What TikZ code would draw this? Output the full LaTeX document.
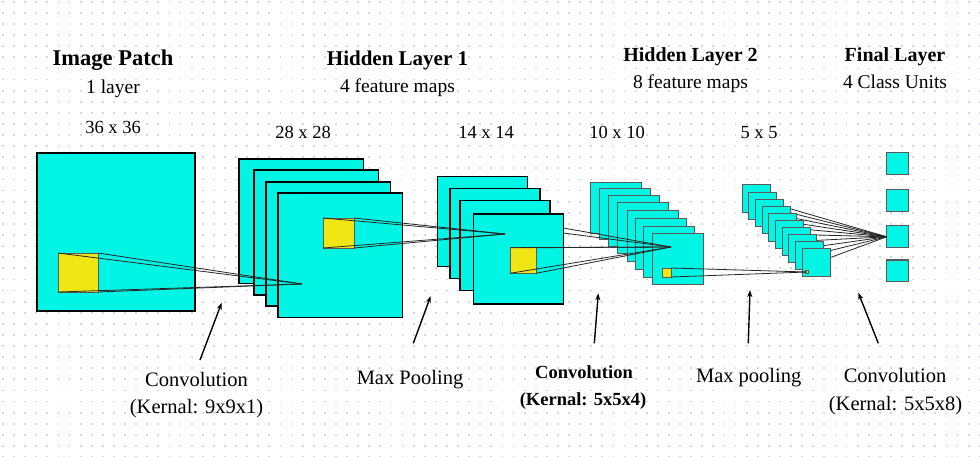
\documentclass[tikz,border=0pt]{standalone}
\usepackage{fontspec}
\setmainfont{Liberation Serif}
\usetikzlibrary{arrows.meta}
\definecolor{fcyan}{RGB}{0,245,228}
\definecolor{fyellow}{RGB}{240,230,20}
\definecolor{gdot}{RGB}{214,214,222}
\definecolor{fgray}{RGB}{90,90,90}
\tikzset{
  sq/.style={anchor=north west, inner sep=0pt, outer sep=0pt, fill=fcyan},
  sqA/.style={sq, draw=black, line width=1.8pt},
  sqB/.style={sq, draw=black, line width=1.2pt},
  sqC/.style={sq, draw=fgray, line width=1pt},
  patch/.style={anchor=north west, inner sep=0pt, outer sep=0pt, fill=fyellow, draw=fgray, line width=0.8pt},
  conn/.style={draw=black!85, line width=0.8pt},
  ptr/.style={draw=black, line width=1.4pt, -{Stealth[length=7pt,width=5pt]}},
  hd/.style={anchor=base, inner sep=0pt, font=\fontsize{21}{24}\selectfont\bfseries},
  hdb/.style={anchor=base, inner sep=0pt, font=\fontsize{20}{24}\selectfont\bfseries},
  sub/.style={anchor=base, inner sep=0pt, font=\fontsize{19.5}{23}\selectfont},
  dim/.style={anchor=base, inner sep=0pt, font=\fontsize{18.5}{22}\selectfont},
  lab/.style={anchor=base, inner sep=0pt, font=\fontsize{20.5}{24}\selectfont},
  labb/.style={anchor=base, inner sep=0pt, font=\fontsize{18.5}{22}\selectfont\bfseries},
}
\begin{document}
\begin{tikzpicture}[x=1pt,y=-1pt]
\useasboundingbox (0,0) rectangle (980,457);
\fill[white] (0,0) rectangle (980,457);
% dotted grid
\foreach \x in {2,13.1,...,980} {
  \foreach \y in {1,12.1,...,457} {
    \fill[gdot] (\x,\y) rectangle ++(1.8,1.8);
  }
}
% ---- Image patch ----
\node[sqA, minimum width=158pt, minimum height=158pt] (ip) at (37,153) {};
\node[patch, minimum width=40pt, minimum height=39pt] (ipk) at (58,253) {};
% ---- Hidden layer 1, 28x28 ----
\node[sqA, minimum width=124.5pt, minimum height=124.5pt] (h1a) at (239,159) {};
\node[sqA, minimum width=124.5pt, minimum height=124.5pt] (h1b) at (254,170.3) {};
\node[sqA, minimum width=124.5pt, minimum height=124.5pt] (h1c) at (266,181.7) {};
\node[sqA, minimum width=124.5pt, minimum height=124.5pt] (h1d) at (278,193) {};
\node[patch, minimum width=31pt, minimum height=30pt] (h1k) at (323,218) {};
\coordinate (ap1) at (302,284);
\foreach \c in {north west,north east,south east,south west} \draw[conn] (ipk.\c) -- (ap1);
% ---- Hidden layer 1, 14x14 ----
\node[sqB, minimum width=90pt, minimum height=90pt] (p1a) at (437.7,176.7) {};
\node[sqB, minimum width=90pt, minimum height=90pt] (p1b) at (450,188.3) {};
\node[sqB, minimum width=90pt, minimum height=90pt] (p1c) at (460,200.7) {};
\node[sqB, minimum width=90pt, minimum height=90pt] (p1d) at (473.3,214) {};
\node[patch, minimum width=26pt, minimum height=25.6pt] (p1k) at (510,247.7) {};
\coordinate (ap2) at (505,234);
\foreach \c in {north west,north east,south east,south west} \draw[conn] (h1k.\c) -- (ap2);
% ---- Hidden layer 2, 10x10 ----
\foreach \n/\x/\y in {1/590.7/182.7,2/599/189,3/608.7/195.7,4/617.7/203,5/627.3/210.3,6/635.7/218.3,7/643.3/226.3,8/652.7/233.7}
  \node[sqC, minimum width=51pt, minimum height=51pt] (c2\n) at (\x,\y) {};
\node[patch, minimum width=9pt, minimum height=9pt] (c2k) at (662,268) {};
\coordinate (ap3) at (671,247);
\coordinate (e1) at (p1d.east |- 0,228);
\coordinate (e2) at (p1d.east |- 0,233);
\foreach \c in {north west,north east,south east,south west} \draw[conn] (p1k.\c) -- (ap3);
\draw[conn] (e1) -- (ap3);
\draw[conn] (e2) -- (ap3);
% ---- Final layer ----
\foreach \n/\y in {1/152.7,2/190,3/226,4/260}
  \node[sqC, minimum width=21.6pt, minimum height=21.6pt] (f\n) at (886.7,\y) {};
\coordinate (ap5) at (f3.west);
% ---- Hidden layer 2, 5x5 (lines behind) ----
\foreach \n in {0,...,9} {
  \coordinate (s\n c) at ({742.3+6.67*\n+13.85},{185+7.1*\n+13.85});
  \draw[conn] (s\n c) -- (ap5);
}
\foreach \n in {0,...,9}
  \node[sqC, minimum width=27.7pt, minimum height=27.7pt] (s\n) at ({742.3+6.67*\n},{185+7.1*\n}) {};
\node[patch, minimum width=3pt, minimum height=3pt, line width=0.6pt] (ap4) at (805.5,270.5) {};
\draw[conn] (c2k.north east) -- (ap4.center);
\draw[conn] (c2k.south east) -- (ap4.center);
% ---- headings ----
\node[hd, font=\fontsize{22.5}{26}\selectfont\bfseries] (t1) at (113,66) {Image Patch};
\node[sub] (t1s) at (113,94) {1 layer};
\node[dim] (d1) at (113,134) {36 x 36};
\node[hd] (t2) at (397.5,66) {Hidden Layer 1};
\node[sub] (t2s) at (397.5,93) {4 feature maps};
\node[hdb] (t3) at (690.5,62) {Hidden Layer 2};
\node[sub] (t3s) at (690.5,88.5) {8 feature maps};
\node[hdb] (t4) at (895,62) {Final Layer};
\node[sub] (t4s) at (895,88.5) {4 Class Units};
\node[dim] (d2) at (303,138.5) {28 x 28};
\node[dim] (d3) at (486,138.5) {14 x 14};
\node[dim] (d4) at (617,138.5) {10 x 10};
\node[dim] (d5) at (759,138.5) {5 x 5};
% ---- bottom labels ----
\node[lab] (l1) at (196.5,386.5) {Convolution};
\node[lab] (l1b) at (196.5,413) {(Kernal: 9x9x1)};
\node[lab] (l2) at (410,384) {Max Pooling};
\node[labb] (l3) at (584,378.5) {Convolution};
\node[labb] (l3b) at (583,405.5) {(Kernal: 5x5x4)};
\node[lab] (l4) at (748.7,382) {Max pooling};
\node[lab] (l5) at (895,382.5) {Convolution};
\node[lab] (l5b) at (895.5,410) {(Kernal: 5x5x8)};
% ---- pointer arrows ----
\coordinate (a1s) at (200,360); \coordinate (a1e) at (221.7,302.7);
\coordinate (a2s) at (413.3,343.3); \coordinate (a2e) at (430.7,296);
\coordinate (a3s) at (594.3,343.3); \coordinate (a3e) at (598.3,293.3);
\coordinate (a4s) at (748.3,343.3); \coordinate (a4e) at (750,290);
\coordinate (a5s) at (878.3,343.3); \coordinate (a5e) at (858.3,292.7);
\draw[ptr] (a1s) -- (a1e);
\draw[ptr] (a2s) -- (a2e);
\draw[ptr] (a3s) -- (a3e);
\draw[ptr] (a4s) -- (a4e);
\draw[ptr] (a5s) -- (a5e);
\end{tikzpicture}
\end{document}
